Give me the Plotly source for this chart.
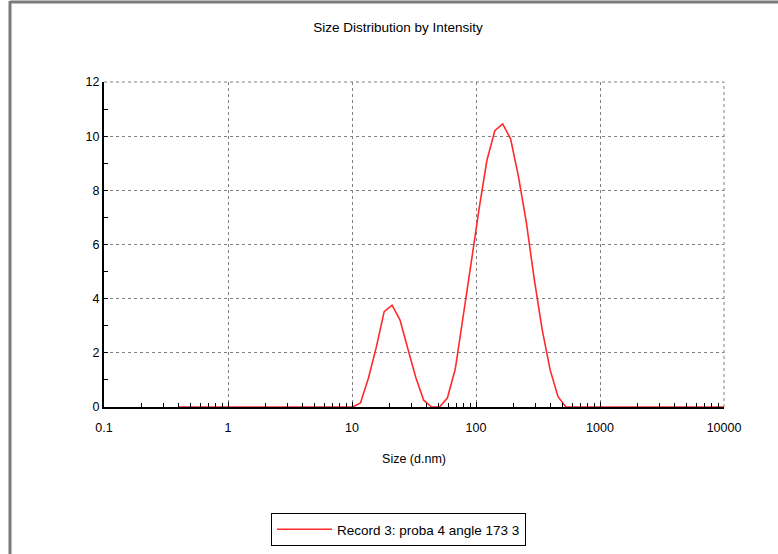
import plotly.graph_objects as go

# Size bins (d.nm)
sizes = [0.4, 0.4632, 0.5365, 0.6213, 0.7195, 0.8332, 0.9649, 1.117, 1.294, 1.499,
         1.736, 2.010, 2.328, 2.696, 3.122, 3.615, 4.187, 4.849, 5.615, 6.503,
         7.531, 8.721, 10.10, 11.70, 13.54, 15.69, 18.17, 21.04, 24.36, 28.21,
         32.67, 37.84, 43.82, 50.75, 58.77, 68.06, 78.82, 91.28, 105.7, 122.4,
         141.8, 164.2, 190.1, 220.2, 255.0, 295.3, 342.0, 396.1, 458.7, 531.2,
         615.1, 712.4, 825.0, 955.4, 1106, 1281, 1484, 1718, 1990, 2305,
         2669, 3091, 3580, 4145, 4801, 5560, 6439, 7456, 8635, 10000]

# Intensity (%)
intensity = [0, 0, 0, 0, 0, 0, 0, 0, 0, 0,
             0, 0, 0, 0, 0, 0, 0, 0, 0, 0,
             0, 0, 0, 0.15, 1.05, 2.2, 3.52, 3.76, 3.22, 2.15,
             1.1, 0.25, 0, 0, 0.33, 1.4, 3.3, 5.3, 7.3, 9.1,
             10.2, 10.45, 9.9, 8.5, 6.8, 4.7, 2.85, 1.37, 0.38, 0,
             0, 0, 0, 0, 0, 0, 0, 0, 0, 0,
             0, 0, 0, 0, 0, 0, 0, 0, 0, 0]

x_tickvals = [0.1, 1, 10, 100, 1000, 10000]
x_ticktext = ["0.1", "1", "10", "100", "1000", "10000"]
x_decades = [0.1, 1, 10, 100, 1000]
x_minor_mult = [2, 3, 4, 5, 6, 7, 8, 9]
x_minor_vals = [d * m for d in x_decades for m in x_minor_mult]
y_tickvals = [0, 2, 4, 6, 8, 10, 12]

series_name = "Record 3: proba 4 angle 173 3"

W, H = 778, 554
L, R, T, B = 104, 724, 82, 407

fig = go.Figure()
fig.add_trace(go.Scatter(
    x=sizes, y=intensity, mode="lines", name=series_name,
    line=dict(color="#ff2a2a", width=1.6), showlegend=True,
))

font = dict(family="Liberation Sans, Arial, sans-serif", size=12, color="#000000")

def px2paper_x(px):
    return (px - L) / (R - L)

def px2paper_y(py):
    return (B - py) / (B - T)

fig.update_layout(
    width=W, height=H,
    margin=dict(l=L, r=W - R, t=T, b=H - B, pad=0, autoexpand=False),
    paper_bgcolor="white", plot_bgcolor="white",
    font=font,
    title=dict(text="Size Distribution by Intensity", x=398 / W, xref="container",
               xanchor="center", y=1 - 27 / H, yanchor="middle", font=dict(size=13.5)),
    showlegend=True,
    legend=dict(x=271 / W, y=1 - 513 / H, xref="container", yref="container",
                xanchor="left", yanchor="top",
                bordercolor="#000000", borderwidth=1, bgcolor="white",
                font=dict(size=13.5), itemwidth=55, tracegroupgap=0),
    xaxis=dict(
        type="log", range=[-1, 4],
        tickvals=x_tickvals, ticktext=x_ticktext,
        showgrid=True, gridcolor="#808080", griddash="dot", gridwidth=1,
        showline=True, linecolor="#000000", linewidth=2,
        ticks="inside", ticklen=5, tickcolor="#000000",
        minor=dict(tickvals=x_minor_vals, ticks="inside", ticklen=4,
                   tickcolor="#000000", showgrid=False),
        zeroline=False, ticklabelstandoff=8, tickfont=dict(size=12.5),
        automargin=False,
        title=dict(text="Size (d.nm)", standoff=20, font=dict(size=12.5)),
    ),
    yaxis=dict(
        range=[0, 12], tickvals=y_tickvals,
        showgrid=True, gridcolor="#808080", griddash="dot", gridwidth=1,
        showline=True, linecolor="#000000", linewidth=2,
        ticks="inside", ticklen=4, tickcolor="#000000", tickfont=dict(size=12.5),
        minor=dict(ticks="inside", ticklen=4, tickcolor="#000000", dtick=1, showgrid=False),
        zeroline=False, automargin=False,
    ),
    shapes=[
        dict(type="line", xref="paper", yref="paper",
             x0=px2paper_x(10), x1=px2paper_x(W + 5), y0=px2paper_y(2), y1=px2paper_y(2),
             line=dict(color="#7a7a7a", width=3), layer="above"),
        dict(type="line", xref="paper", yref="paper",
             x0=px2paper_x(10), x1=px2paper_x(10), y0=px2paper_y(1), y1=px2paper_y(H + 5),
             line=dict(color="#7a7a7a", width=3), layer="above"),
        dict(type="line", xref="paper", yref="paper",
             x0=1, x1=1, y0=0, y1=1,
             line=dict(color="#808080", width=1, dash="dot"), layer="below"),
        dict(type="line", xref="paper", yref="paper",
             x0=0, x1=1, y0=1, y1=1,
             line=dict(color="#808080", width=1, dash="dot"), layer="below"),
    ],
)

fig.write_html("out.html")
